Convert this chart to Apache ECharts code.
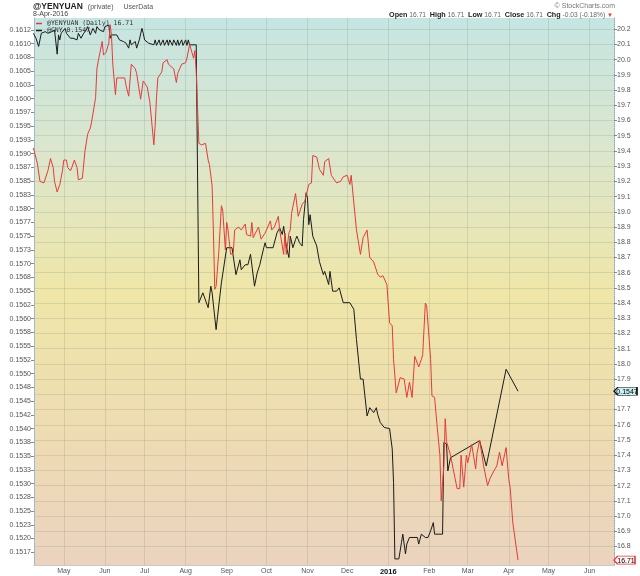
<!DOCTYPE html>
<html><head><meta charset="utf-8">
<script src="https://cdn.jsdelivr.net/npm/echarts@6.0.0/dist/echarts.min.js"></script>
<style>html,body{margin:0;padding:0;background:#fff}#c{width:640px;height:576px}</style>
</head><body><div id="c"></div>
<script>
const yenDates = ['2015-04-08','2015-04-11','2015-04-13','2015-04-16','2015-04-17','2015-04-19','2015-04-21','2015-04-23','2015-04-24','2015-04-26','2015-04-28','2015-04-30',
'2015-05-01','2015-05-03','2015-05-04','2015-05-06','2015-05-07','2015-05-08','2015-05-09','2015-05-11','2015-05-12','2015-05-13','2015-05-15','2015-05-17','2015-05-19','2015-05-21','2015-05-22','2015-05-23','2015-05-25','2015-05-26','2015-05-27','2015-05-30','2015-05-31',
'2015-06-01','2015-06-02','2015-06-04','2015-06-05','2015-06-06','2015-06-07','2015-06-09','2015-06-10','2015-06-12','2015-06-16','2015-06-17','2015-06-19','2015-06-21','2015-06-24','2015-06-25','2015-06-28','2015-06-30',
'2015-07-03','2015-07-05','2015-07-08','2015-07-09','2015-07-10','2015-07-11','2015-07-14','2015-07-15','2015-07-18','2015-07-19','2015-07-23','2015-07-25','2015-07-26','2015-07-29',
'2015-08-01','2015-08-02','2015-08-04','2015-08-07','2015-08-08','2015-08-09','2015-08-11','2015-08-13','2015-08-16','2015-08-18','2015-08-19','2015-08-21','2015-08-22','2015-08-23','2015-08-24','2015-08-26','2015-08-28','2015-08-29','2015-08-31',
'2015-09-01','2015-09-02','2015-09-04','2015-09-06','2015-09-07','2015-09-10','2015-09-12','2015-09-15','2015-09-16','2015-09-19','2015-09-20','2015-09-21','2015-09-22','2015-09-25','2015-09-27','2015-09-30',
'2015-10-04','2015-10-05','2015-10-07','2015-10-10','2015-10-11','2015-10-14','2015-10-15','2015-10-16','2015-10-18','2015-10-19','2015-10-20','2015-10-23','2015-10-25','2015-10-28','2015-10-30',
'2015-11-02','2015-11-04','2015-11-05','2015-11-08','2015-11-10','2015-11-13','2015-11-14','2015-11-17','2015-11-19','2015-11-23','2015-11-26','2015-11-28',
'2015-12-01','2015-12-03','2015-12-04','2015-12-08','2015-12-11','2015-12-13','2015-12-16','2015-12-18','2015-12-21','2015-12-24','2015-12-26','2015-12-28','2015-12-31',
'2016-01-01','2016-01-02','2016-01-04','2016-01-05','2016-01-07','2016-01-10','2016-01-13','2016-01-15','2016-01-17','2016-01-19','2016-01-21','2016-01-24','2016-01-26','2016-01-27','2016-01-29','2016-01-30',
'2016-02-02','2016-02-03','2016-02-05','2016-02-07','2016-02-09','2016-02-10','2016-02-12','2016-02-13','2016-02-14','2016-02-15','2016-02-17','2016-02-19','2016-02-20','2016-02-22','2016-02-24','2016-02-25','2016-02-27','2016-02-29',
'2016-03-01','2016-03-04','2016-03-07','2016-03-08','2016-03-10','2016-03-13','2016-03-16','2016-03-18','2016-03-21','2016-03-23','2016-03-25','2016-03-27','2016-03-30',
'2016-04-01','2016-04-02','2016-04-04','2016-04-08'];
const yenValues = [19.42,19.32,19.20,19.19,19.20,19.27,19.35,19.29,19.20,19.13,19.18,19.27,
19.34,19.34,19.29,19.27,19.29,19.29,19.34,19.29,19.21,19.22,19.22,19.40,19.51,19.55,19.59,19.60,19.75,19.94,19.99,20.12,20.03,
20.04,20.05,20.11,20.23,20.16,19.97,19.77,19.88,19.88,19.88,19.83,19.76,19.97,19.94,19.91,19.74,19.86,
19.82,19.72,19.44,19.57,19.75,19.88,19.92,19.98,20.00,19.97,19.94,19.85,19.91,19.97,
19.98,20.01,20.10,20.01,20.06,19.92,19.45,19.44,19.45,19.34,19.31,19.17,18.86,18.49,18.51,18.73,19.04,19.01,18.75,
18.93,18.88,18.72,18.73,18.88,18.90,18.88,18.92,18.85,18.84,18.93,18.83,18.82,18.90,18.82,18.86,
18.94,18.88,18.90,18.97,18.88,18.72,18.86,18.72,18.86,18.88,18.99,19.12,18.97,19.05,19.07,
19.18,19.19,19.37,19.36,19.28,19.24,19.33,19.35,19.24,19.19,19.20,19.23,
19.24,19.18,19.24,18.88,18.72,18.83,18.88,18.70,18.67,18.59,18.57,18.58,18.52,
18.51,18.27,18.25,18.03,17.81,17.91,17.90,17.78,17.88,17.78,18.05,17.98,18.03,18.06,18.40,18.38,
18.03,17.79,17.78,17.58,17.40,17.10,17.33,17.64,17.49,17.48,17.40,17.31,17.32,17.18,17.18,17.40,17.19,17.40,
17.35,17.47,17.31,17.41,17.50,17.33,17.20,17.25,17.30,17.33,17.42,17.33,17.45,
17.24,17.19,16.96,16.71];

const cnyDates = ['2015-04-08','2015-04-10','2015-04-12','2015-04-13','2015-04-14','2015-04-17','2015-04-19','2015-04-22','2015-04-24','2015-04-26','2015-04-27','2015-04-28','2015-04-29',
'2015-05-02','2015-05-03','2015-05-04','2015-05-06','2015-05-08','2015-05-11','2015-05-12','2015-05-14','2015-05-16','2015-05-18','2015-05-19','2015-05-21','2015-05-23','2015-05-25','2015-05-26','2015-05-28','2015-05-31',
'2015-06-01','2015-06-04','2015-06-05','2015-06-06','2015-06-10','2015-06-12','2015-06-15','2015-06-17','2015-06-19','2015-06-20','2015-06-21','2015-06-24','2015-06-25','2015-06-27','2015-06-29','2015-06-30',
'2015-07-01','2015-07-04','2015-07-05','2015-07-08','2015-07-09','2015-07-10','2015-07-12','2015-07-13','2015-07-15','2015-07-16','2015-07-18','2015-07-19','2015-07-20','2015-07-22','2015-07-23','2015-07-25','2015-07-26','2015-07-27','2015-07-29','2015-07-30',
'2015-08-01','2015-08-02','2015-08-03','2015-08-04','2015-08-09','2015-08-11','2015-08-14','2015-08-18','2015-08-20','2015-08-21','2015-08-24','2015-08-26','2015-08-28',
'2015-09-01','2015-09-05','2015-09-08','2015-09-11','2015-09-12','2015-09-15','2015-09-17','2015-09-19','2015-09-22','2015-09-24','2015-09-26','2015-09-29','2015-09-30',
'2015-10-01','2015-10-06','2015-10-09','2015-10-11','2015-10-13','2015-10-14','2015-10-16','2015-10-18','2015-10-19','2015-10-21','2015-10-23','2015-10-24','2015-10-26','2015-10-28','2015-10-29','2015-10-31',
'2015-11-01','2015-11-02','2015-11-03','2015-11-05','2015-11-08','2015-11-10','2015-11-13','2015-11-14','2015-11-17','2015-11-18','2015-11-20','2015-11-23','2015-11-25','2015-11-28',
'2015-12-03','2015-12-06','2015-12-08','2015-12-11','2015-12-13','2015-12-16','2015-12-18','2015-12-21','2015-12-23','2015-12-24','2015-12-26','2015-12-29',
'2016-01-02','2016-01-04','2016-01-05','2016-01-06','2016-01-09','2016-01-11','2016-01-12','2016-01-14','2016-01-15','2016-01-17','2016-01-23','2016-01-24','2016-01-26','2016-01-29','2016-01-31',
'2016-02-02','2016-02-04','2016-02-05','2016-02-11','2016-02-12','2016-02-14','2016-02-15','2016-02-17',
'2016-03-10','2016-03-15','2016-03-30','2016-04-08'];
const cnyValues = [0.16119,0.16110,0.16095,0.16107,0.16119,0.16122,0.16119,0.16122,0.16125,0.16081,0.16116,0.16107,0.16119,
0.16128,0.16119,0.16122,0.16110,0.16110,0.16107,0.16119,0.16110,0.16119,0.16125,0.16131,0.16116,0.16128,0.16119,0.16131,0.16125,0.16122,
0.16131,0.16134,0.16110,0.16116,0.16116,0.16107,0.16104,0.16101,0.16092,0.16107,0.16098,0.16104,0.16092,0.16107,0.16128,0.16119,
0.16107,0.16101,0.16104,0.16098,0.16107,0.16097,0.16107,0.16097,0.16107,0.16097,0.16107,0.16097,0.16107,0.16097,0.16107,0.16097,0.16107,0.16097,0.16107,0.16097,
0.16107,0.16097,0.16107,0.16098,0.16098,0.15629,0.15647,0.15620,0.15659,0.15647,0.15580,0.15623,0.15665,
0.15729,0.15729,0.15680,0.15707,0.15689,0.15698,0.15698,0.15717,0.15659,0.15683,0.15698,0.15729,0.15738,
0.15729,0.15729,0.15756,0.15765,0.15753,0.15768,0.15732,0.15711,0.15750,0.15729,0.15744,0.15750,0.15738,0.15732,0.15780,0.15829,
0.15820,0.15771,0.15789,0.15750,0.15732,0.15704,0.15680,0.15686,0.15662,0.15686,0.15650,0.15650,0.15656,0.15629,
0.15629,0.15617,0.15562,0.15490,0.15490,0.15423,0.15438,0.15429,0.15438,0.15426,0.15411,0.15402,
0.15400,0.15363,0.15302,0.15163,0.15163,0.15193,0.15208,0.15172,0.15190,0.15202,0.15202,0.15190,0.15208,0.15202,0.15202,
0.15214,0.15229,0.15208,0.15208,0.15375,0.15372,0.15323,0.15347,
0.15378,0.15332,0.15508,0.15468];

const monthTicks = ['2015-05-01','2015-06-01','2015-07-01','2015-08-01','2015-09-01','2015-10-01','2015-11-01','2015-12-01','2016-01-01','2016-02-01','2016-03-01','2016-04-01','2016-05-01','2016-06-01'];
const monthLabels = ['May','Jun','Jul','Aug','Sep','Oct','Nov','Dec','2016','Feb','Mar','Apr','May','Jun'];
const leftTickLabels = ['0.1612','0.1610','0.1608','0.1605','0.1603','0.1600','0.1597','0.1595','0.1593','0.1590','0.1587','0.1585','0.1583','0.1580','0.1577','0.1575','0.1573','0.1570','0.1568','0.1565','0.1562','0.1560','0.1558','0.1555','0.1552','0.1550','0.1548','0.1545','0.1542','0.1540','0.1538','0.1535','0.1533','0.1530','0.1528','0.1525','0.1523','0.1520','0.1517'];
const rightTickLabels = ['20.2','20.1','20.0','19.9','19.8','19.7','19.6','19.5','19.4','19.3','19.2','19.1','19.0','18.9','18.8','18.7','18.6','18.5','18.4','18.3','18.2','18.1','18.0','17.9','17.8','17.7','17.6','17.5','17.4','17.3','17.2','17.1','17.0','16.9','16.8'];

function ts(s){ const p = s.split('-'); return Date.UTC(+p[0], +p[1]-1, +p[2]); }
const HOUR = 3600000;
const xMin = ts('2015-04-08') + 12*HOUR;
const xMax = ts('2016-06-19') + 11*HOUR;
const monthTs = monthTicks.map(ts);
const leftVals = leftTickLabels.map((_, i) => +(0.16125 - i*0.00025).toFixed(5));
const rightVals = rightTickLabels.map(Number);
const yenData = yenDates.map((d, i) => [ts(d), yenValues[i]]);
const cnyData = cnyDates.map((d, i) => [ts(d), cnyValues[i]]);
const yenLast = yenValues[yenValues.length-1];
const cnyLast = cnyValues[cnyValues.length-1];

const FONT = 'Liberation Sans, Arial, sans-serif';
const gridColor = 'rgba(90,110,95,0.16)';
const RED = '#e33b3b';

const chart = echarts.init(document.getElementById('c'), null, {renderer: 'canvas'});
chart.setOption({
  animation: false,
  backgroundColor: '#ffffff',
  textStyle: {fontFamily: FONT},
  title: [
    {left: 33, top: -2, padding: 0, text: '{a|@YENYUAN} {b|(private)}  {b|UserData}',
     textStyle: {fontWeight: 'normal', rich: {a: {fontSize: 8.5, fontWeight: 'bold', color: '#222', fontFamily: FONT}, b: {fontSize: 7, fontWeight: 'normal', color: '#555', fontFamily: FONT}}}},
    {left: 33, top: 11, padding: 0, text: '8-Apr-2016', textStyle: {fontSize: 7, color: '#444', fontWeight: 'normal', fontFamily: FONT}},
    {right: 25, top: 3, padding: 0, text: '\u00A9 StockCharts.com', textStyle: {fontSize: 7, color: '#777', fontWeight: 'normal', fontFamily: FONT}},
    {right: 27, top: 12, padding: 0, text: '{b|Open} 16.71  {b|High} 16.71  {b|Low} 16.71  {b|Close} 16.71  {b|Chg} -0.03 (-0.18%) {r|\u25BC}',
     textStyle: {fontSize: 6.7, color: '#666', fontWeight: 'normal', fontFamily: FONT,
       rich: {b: {fontSize: 7.2, fontWeight: 'bold', color: '#222', fontFamily: FONT}, r: {fontSize: 6, color: RED}}}}
  ],
  legend: {
    left: 34, top: 18, orient: 'vertical', itemGap: 0, itemWidth: 6, itemHeight: 1.5, padding: [2, 2],
    icon: 'rect', selectedMode: false,
    data: ['@YENYUAN (Daily)', '@CNY'],
    formatter: n => n === '@CNY' ? n + ' ' + cnyLast.toFixed(4) : n + ' ' + yenLast.toFixed(2),
    textStyle: {fontFamily: 'DejaVu Sans Mono', fontSize: 6.5, color: '#333'}
  },
  grid: {
    left: 34, right: 26, top: 18, bottom: 10, containLabel: false, show: true, borderWidth: 0,
    backgroundColor: {type: 'linear', x: 0, y: 0, x2: 0, y2: 1, colorStops: [
      {offset: 0, color: '#c6e5e2'},
      {offset: 0.25, color: '#dce6cc'},
      {offset: 0.5, color: '#efe6a8'},
      {offset: 0.75, color: '#eedcb2'},
      {offset: 1, color: '#ebd3bf'}
    ]}
  },
  xAxis: {
    type: 'value', min: xMin, max: xMax,
    axisLine: {show: true, lineStyle: {color: '#c8c8c8', width: 1}},
    axisTick: {show: false, customValues: monthTs},
    splitLine: {show: true, lineStyle: {color: gridColor, width: 1}},
    axisLabel: {
      customValues: monthTs, fontSize: 7, color: '#555', margin: 3, fontFamily: FONT,
      formatter: v => {
        const i = monthTs.findIndex(t => Math.abs(t - v) < 86400000);
        const s = i >= 0 ? monthLabels[i] : '';
        return s === '2016' ? '{y|2016}' : s;
      },
      rich: {y: {fontWeight: 'bold', color: '#111', fontSize: 7.5, fontFamily: FONT}}
    }
  },
  yAxis: [
    {
      type: 'value', position: 'left', min: 0.151519, max: 0.161468,
      axisLine: {show: true, lineStyle: {color: '#9fb8cf', width: 1}},
      axisTick: {show: true, length: 3, customValues: leftVals, lineStyle: {color: '#888'}},
      splitLine: {show: false},
      axisLabel: {
        customValues: leftVals, fontSize: 7, color: '#555', margin: 3, fontFamily: FONT,
        formatter: v => { const i = Math.round((0.16125 - v)/0.00025); return leftTickLabels[i] || ''; }
      }
    },
    {
      type: 'value', position: 'right', min: 16.678, max: 20.274,
      axisLine: {show: true, lineStyle: {color: '#8aa4bc', width: 1, type: 'dotted'}},
      axisTick: {show: true, length: 3, customValues: rightVals, lineStyle: {color: '#888'}},
      splitLine: {show: true, lineStyle: {color: gridColor, width: 1}},
      axisLabel: {
        customValues: rightVals, fontSize: 7, color: '#555', margin: 3, fontFamily: FONT,
        formatter: v => v.toFixed(1)
      }
    }
  ],
  series: [
    {
      name: '@CNY', type: 'line', yAxisIndex: 0, data: cnyData, showSymbol: false, symbol: 'none',
      lineStyle: {color: '#1a1a1a', width: 1}, itemStyle: {color: '#1a1a1a'},
      markPoint: {
        symbol: 'path://M0,5L5,0L30,0L30,10L5,10Z', symbolSize: [23, 8], symbolOffset: [11.5, 0],
        itemStyle: {color: '#cdeef3', borderColor: '#111', borderWidth: 1},
        label: {show: true, position: 'inside', fontSize: 7, color: '#000', offset: [1.5, 0.5], formatter: () => cnyLast.toFixed(4), fontFamily: FONT},
        data: [{coord: [xMax, cnyLast]}]
      }
    },
    {
      name: '@YENYUAN (Daily)', type: 'line', yAxisIndex: 1, data: yenData, showSymbol: false, symbol: 'none',
      lineStyle: {color: RED, width: 1}, itemStyle: {color: RED},
      markPoint: {
        symbol: 'path://M0,5L5,0L30,0L30,10L5,10Z', symbolSize: [21, 8], symbolOffset: [10.5, 0],
        itemStyle: {color: '#fff4f4', borderColor: RED, borderWidth: 1},
        label: {show: true, position: 'inside', fontSize: 7, color: '#000', offset: [1.5, 0.5], formatter: () => yenLast.toFixed(2), fontFamily: FONT},
        data: [{coord: [xMax, yenLast]}]
      }
    }
  ]
});
</script></body></html>
